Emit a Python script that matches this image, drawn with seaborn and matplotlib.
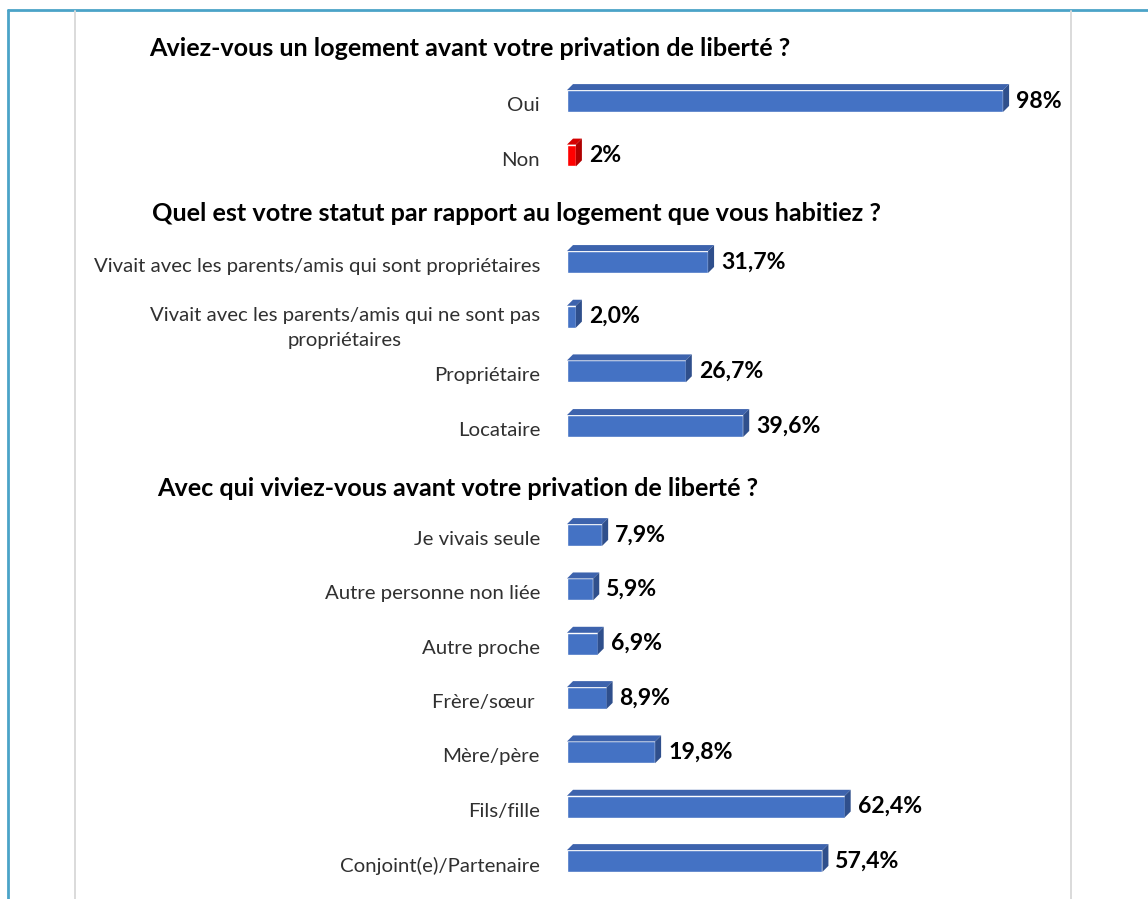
import matplotlib
matplotlib.use("Agg")
import matplotlib.pyplot as plt
import seaborn as sns
import pandas as pd
from matplotlib.patches import Polygon
from matplotlib.lines import Line2D
from matplotlib.transforms import IdentityTransform, ScaledTranslation

# ---------------- data ----------------
title1 = "Aviez-vous un logement avant votre privation de liberté ?"
cats1 = ["Oui", "Non"]
vals1 = [98, 2]
labels1 = ["98%", "2%"]

title2 = "Quel est votre statut par rapport au logement que vous habitiez ?"
cats2 = ["Vivait avec les parents/amis qui sont propriétaires",
         "Vivait avec les parents/amis qui ne sont pas\npropriétaires",
         "Propriétaire", "Locataire"]
vals2 = [31.7, 2.0, 26.7, 39.6]
labels2 = ["31,7%", "2,0%", "26,7%", "39,6%"]

title3 = "Avec qui viviez-vous avant votre privation de liberté ?"
cats3 = ["Je vivais seule", "Autre personne non liée", "Autre proche",
         "Frère/sœur ", "Mère/père", "Fils/fille", "Conjoint(e)/Partenaire"]
vals3 = [7.9, 5.9, 6.9, 8.9, 19.8, 62.4, 57.4]
labels3 = ["7,9%", "5,9%", "6,9%", "8,9%", "19,8%", "62,4%", "57,4%"]

# ---------------- style ----------------
sns.set_theme(style="white")
plt.rcParams['font.family'] = ['Lato', 'DejaVu Sans']

W, H = 1148, 899
fig = plt.figure(figsize=(W / 100, H / 100), dpi=100)
fig.patch.set_facecolor("white")

BLUE = "#4472C4"
BLUE_TOP = "#3D63AD"
BLUE_SIDE = "#2F4F8C"
RED = "#FF0000"
RED_TOP = "#D40000"
RED_SIDE = "#B00000"

def ax_at(left, top, width, height):
    return fig.add_axes([left / W, 1 - (top + height) / H, width / W, height / H])

X0 = 567
XW = 445  # 100% width in px

sections = [
    (title1, cats1, vals1, labels1, 101, 54.5, 470),
    (title2, cats2, vals2, labels2, 262, 54.67, 516),
    (title3, cats3, vals3, labels3, 535, 54.33, 458),
]
title_y = [48, 213, 489]
title_w = [645, 736, 603]

fig.canvas.draw()
renderer = fig.canvas.get_renderer()

def fit(t, target):
    w = t.get_window_extent(renderer).width
    t.set_fontsize(t.get_fontsize() * target / w)

axes = []
for i, (title, cats, vals, labs, y0, step, tx) in enumerate(sections):
    n = len(cats)
    ax = ax_at(X0, y0 - step / 2, XW, step * n)
    df = pd.DataFrame({"cat": cats, "val": vals})
    if i == 0:
        sns.barplot(data=df, x="val", y="cat", hue="cat", palette=[BLUE, RED],
                    legend=False, orient="h", width=0.40, ax=ax, saturation=1)
    else:
        sns.barplot(data=df, x="val", y="cat", color=BLUE, orient="h",
                    width=0.40, ax=ax, saturation=1)
    ax.set_xlim(0, 100)
    ax.set_ylim(n - 0.5, -0.5)
    ax.set_xlabel("")
    ax.set_ylabel("")
    ax.set_xticks([])
    for s in ax.spines.values():
        s.set_visible(False)
    ax.patch.set_alpha(0)
    ax.tick_params(axis="y", length=0, pad=27 * 0.72, labelsize=12.5, labelcolor="#303030")
    for t in ax.get_yticklabels():
        multi = "\n" in t.get_text()
        t.set_multialignment("center")
        t.set_linespacing(1.55)
        dy = -6 if multi else -3
        t.set_transform(t.get_transform() + ScaledTranslation(0, dy / 100, fig.dpi_scale_trans))
    for p, lab in zip(ax.patches, labs):
        w = p.get_width()
        yc = p.get_y() + p.get_height() / 2
        ax.annotate(lab, xy=(w, yc), xytext=(13 * 0.72, 0), textcoords="offset points",
                    va="center", ha="left", fontsize=13, fontweight="bold",
                    color="black", annotation_clip=False)
    ft = fig.text(tx / W, 1 - title_y[i] / H, title, ha="center", va="center",
                  fontsize=14, fontweight="bold", color="black")
    fit(ft, title_w[i])
    axes.append(ax)

fig.canvas.draw()
renderer = fig.canvas.get_renderer()
# font size fit for tick labels using the longest single line
ref = axes[1].get_yticklabels()[0]
w = ref.get_window_extent(renderer).width
tick_size = ref.get_fontsize() * 448 / w
for ax in axes:
    for t in ax.get_yticklabels():
        t.set_fontsize(tick_size)
# fit value labels
fig.canvas.draw()
ann = [c for c in axes[2].texts if c.get_text() == "62,4%"][0]
w = ann.get_window_extent(renderer).width
val_size = ann.get_fontsize() * 64 / w
for ax in axes:
    for t in ax.texts:
        t.set_fontsize(val_size)

# ---------------- 3D depth faces ----------------
fig.canvas.draw()
d = 6
for ax in axes:
    for p in ax.patches:
        bb = p.get_window_extent(renderer)
        x0, x1, yb, yt = bb.x0, bb.x1, bb.y0, bb.y1
        red = matplotlib.colors.to_hex(p.get_facecolor()).lower() == RED.lower()
        top_c = RED_TOP if red else BLUE_TOP
        side_c = RED_SIDE if red else BLUE_SIDE
        top = Polygon([(x0, yt), (x1, yt), (x1 + d, yt + d), (x0 + d, yt + d)],
                      closed=True, transform=IdentityTransform(), facecolor=top_c,
                      edgecolor="none")
        side = Polygon([(x1, yb), (x1 + d, yb + d), (x1 + d, yt + d), (x1, yt)],
                       closed=True, transform=IdentityTransform(), facecolor=side_c,
                       edgecolor="none")
        fig.add_artist(top)
        fig.add_artist(side)

# ---------------- frame lines ----------------
fig.add_artist(Line2D([8 / W, 1], [1 - 10 / H, 1 - 10 / H], transform=fig.transFigure,
                      color="#4BA3C8", lw=2))
fig.add_artist(Line2D([8 / W, 8 / W], [0, 1 - 10 / H], transform=fig.transFigure,
                      color="#4BA3C8", lw=2))
for gx in (74.5, 1071):
    fig.add_artist(Line2D([gx / W, gx / W], [0, 1 - 11 / H], transform=fig.transFigure,
                          color="#DADADA", lw=1.4))

fig.savefig("out.png", dpi=100, facecolor="white")
